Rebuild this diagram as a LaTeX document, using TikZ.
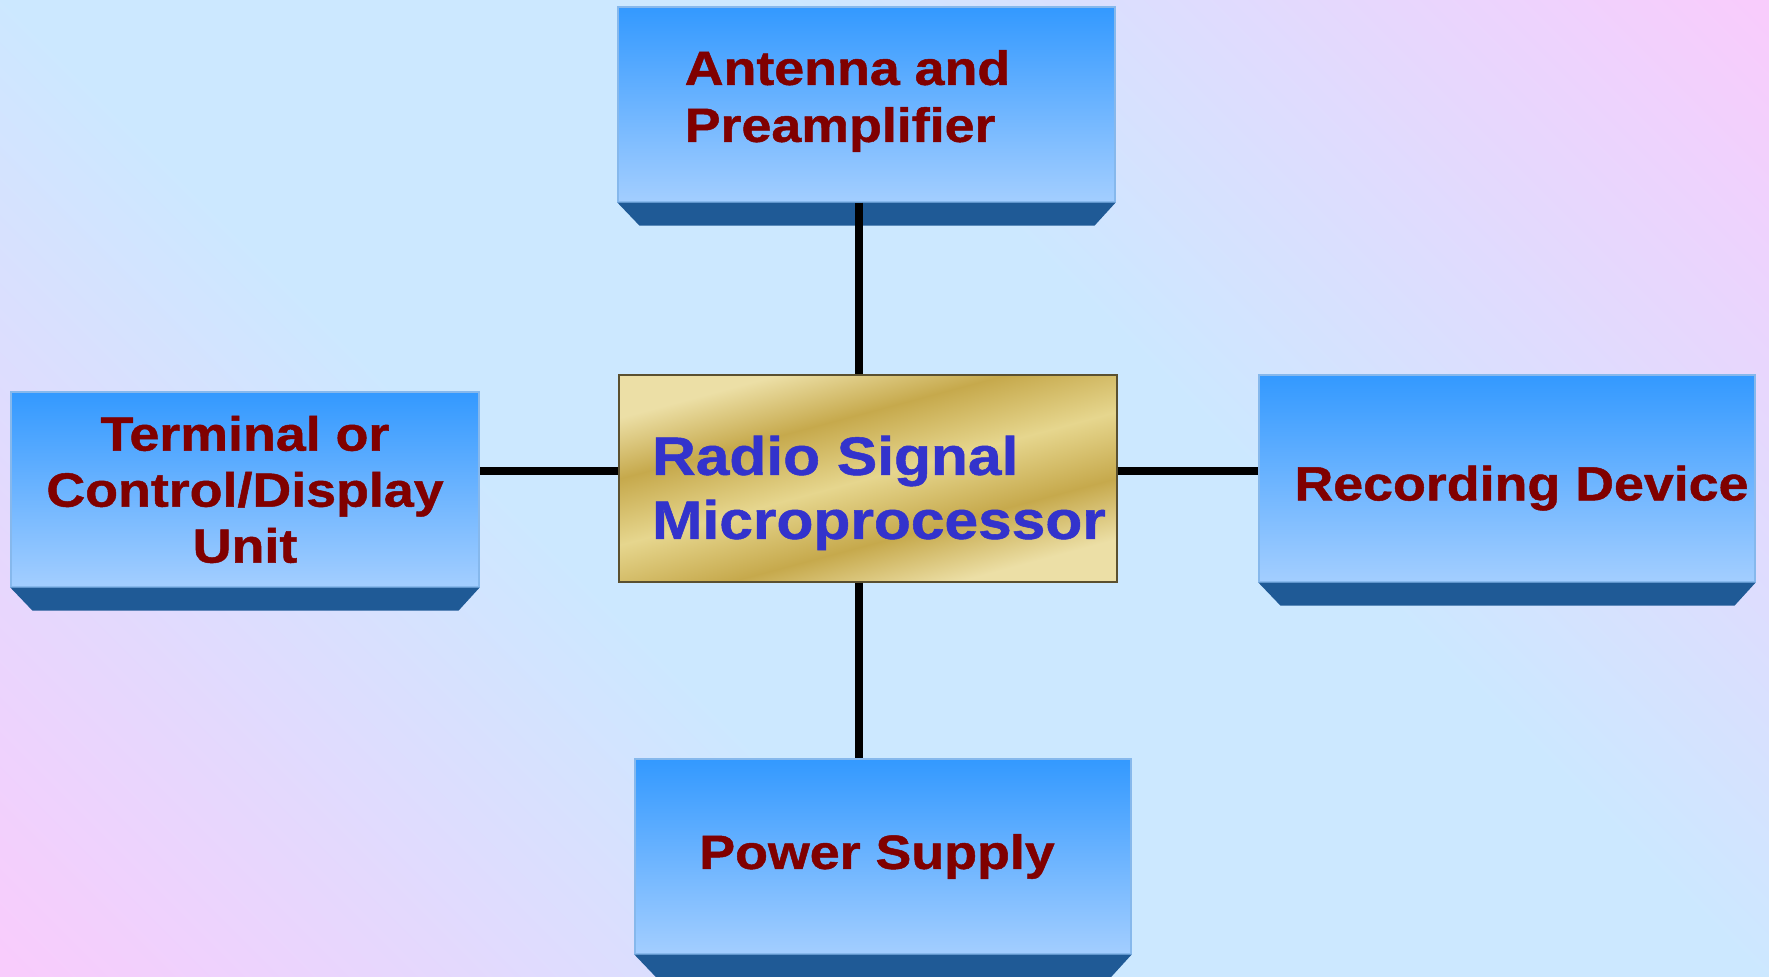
\documentclass[tikz,border=0pt]{standalone}
\usepackage{fontspec}
\setmainfont{Liberation Sans}
\newfontfamily\labfont{Liberation Sans}[FakeStretch=1.12, FakeBold=1]
\usetikzlibrary{calc}
\definecolor{pk}{HTML}{F8CCFC}
\definecolor{bl}{HTML}{CCE8FF}
\definecolor{boxtop}{HTML}{3399FF}
\definecolor{boxbot}{HTML}{A3CEFF}
\definecolor{boxedge}{HTML}{86B8EC}
\definecolor{bevelc}{HTML}{1F5A96}
\definecolor{txtred}{HTML}{800000}
\definecolor{txtblue}{HTML}{3333CC}
\definecolor{gl}{HTML}{E6D68E}
\definecolor{gd}{HTML}{C6A94C}
\definecolor{gv}{HTML}{ECDFA6}
\definecolor{goldedge}{HTML}{5A5030}
\pgfdeclareverticalshading{bgsh}{100bp}{color(0bp)=(pk); color(15bp)=(pk); color(40bp)=(bl); color(60bp)=(bl); color(85bp)=(pk); color(100bp)=(pk)}
\pgfdeclareverticalshading{goldsh}{100bp}{color(0bp)=(gv); color(27bp)=(gv); color(38bp)=(gd); color(50bp)=(gl); color(62bp)=(gd); color(73bp)=(gv); color(100bp)=(gv)}
\tikzset{
  boxnode/.style={inner sep=0pt, top color=boxtop, bottom color=boxbot, draw=boxedge, line width=0.6pt, text=txtred,
    font=\labfont\bfseries\fontsize{24}{28}\selectfont, align=center},
  conn/.style={line width=4.3pt, black},
}
\newcommand\boxbevel[1]{\fill[bevelc] (#1.south west) -- (#1.south east) -- ++(-21,-23) -- ($(#1.south west)+(22,-23)$) -- cycle;}
\begin{document}
\begin{tikzpicture}[x=0.5pt,y=0.5pt]
\useasboundingbox (0,0) rectangle (1769,977);
\shade[shading=bgsh, shading angle=-45] (0,0) rectangle (1769,977);

\node[boxnode, minimum width=248.5pt, minimum height=97.5pt, align=left,
  font=\labfont\bfseries\fontsize{24}{28.5}\selectfont] (A) at (866.5,872.5) {Antenna and\hspace*{19pt}\\Preamplifier\rule[-8.5pt]{0pt}{0pt}};
\boxbevel{A}

\node[boxnode, minimum width=234pt, minimum height=97.5pt] (T) at (245,487.5) {Terminal or\\Control/Display\\Unit};
\boxbevel{T}

\node[boxnode, minimum width=248pt, minimum height=103.5pt] (R) at (1507,498.5) {\rule{0pt}{27pt}\hspace*{14.5pt}Recording Device};
\boxbevel{R}

\node[boxnode, minimum width=248pt, minimum height=97.5pt] (P) at (883,120.5) {Power Supply\hspace*{6pt}};
\boxbevel{P}

\node[inner sep=0pt, minimum width=249pt, minimum height=103.5pt, shading=goldsh, shading angle=15, draw=goldedge, line width=0.6pt,
  text=txtblue, font=\labfont\bfseries\fontsize{27}{32}\selectfont, align=left] (M) at (868,498.5)
  {\rule{0pt}{34pt}\hspace*{11pt}Radio Signal\\\hspace*{11pt}Microprocessor};

\draw[conn] ([xshift=-3.75pt]A.south) -- ([xshift=-3.75pt]A.south |- M.north);
\draw[conn] ([xshift=-4.5pt]M.south) -- ([xshift=-4.5pt]M.south |- P.north);
\draw[conn] ([yshift=3.75pt]M.west) -- ([yshift=3.75pt]M.west -| T.east);
\draw[conn] ([yshift=3.75pt]M.east) -- ([yshift=3.75pt]M.east -| R.west);
\end{tikzpicture}
\end{document}
